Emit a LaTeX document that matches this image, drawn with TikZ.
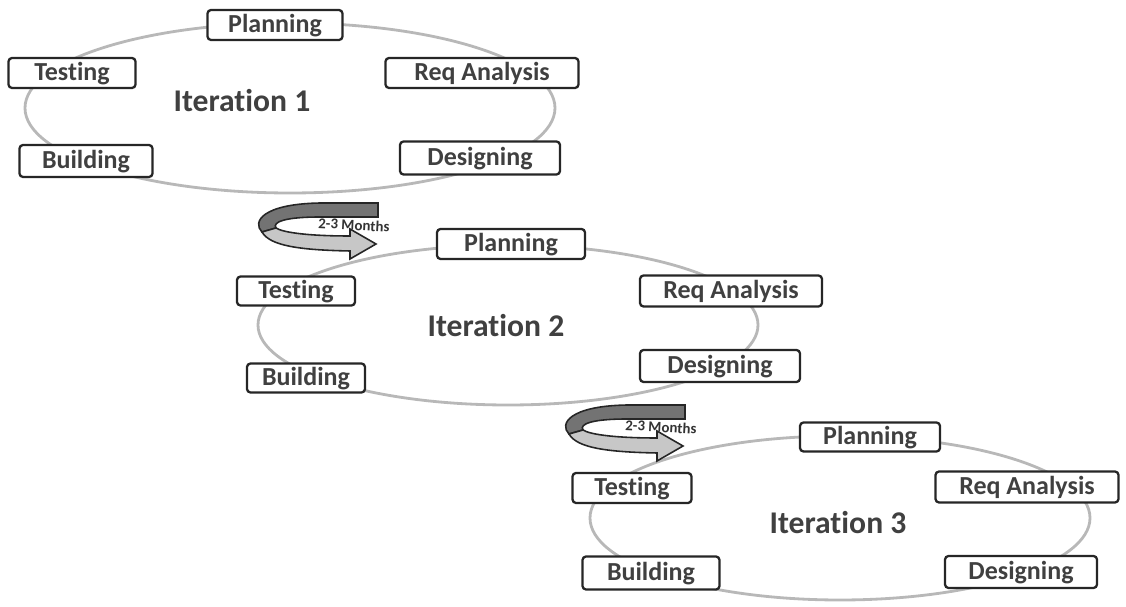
\documentclass[tikz,border=0pt]{standalone}
\usepackage{fontspec}
\setmainfont{Carlito}[Ligatures={NoCommon}]
\begin{document}
\begin{tikzpicture}[x=0.02cm,y=-0.02cm,
  stage/.style={draw=black!85,line width=1.3pt,rounded corners=2pt,fill=white,
    inner sep=0pt,text height=2.1ex,text depth=0.2ex,
    font=\fontsize{14.8}{16}\selectfont\bfseries,text=black!75},
  iterlabel/.style={font=\fontsize{18}{20}\selectfont\bfseries,text=black!75},
  cyclepath/.style={draw=black!28,line width=1.6pt},
  monthlabel/.style={font=\fontsize{8.5}{9}\selectfont\bfseries,text=black!80}]
\useasboundingbox (0,0) rectangle (1126,607);

% ---------- cycles ----------
\draw[cyclepath] (290,108) ellipse [x radius=265, y radius=85];
\draw[cyclepath] (508,325) ellipse [x radius=250, y radius=80];
\draw[cyclepath] (840,518) ellipse [x radius=250, y radius=82];

% ---------- Iteration 1 ----------
\node[stage,minimum width=135*0.02cm,minimum height=0.6cm] (p1) at (275,25) {Planning};
\node[stage,minimum width=127*0.02cm,minimum height=0.6cm] (t1) at (72,73) {Testing};
\node[stage,minimum width=193*0.02cm,minimum height=0.6cm] (r1) at (482,73) {Req Analysis};
\node[stage,minimum width=133*0.02cm,minimum height=0.64cm] (b1) at (86,161) {Building};
\node[stage,minimum width=160*0.02cm,minimum height=0.66cm] (d1) at (480,158) {Designing};
\node[iterlabel] (i1) at (242,101) {Iteration 1};

% ---------- Iteration 2 ----------
\node[stage,minimum width=148*0.02cm,minimum height=0.6cm] (p2) at (511,244) {Planning};
\node[stage,minimum width=118*0.02cm,minimum height=0.58cm] (t2) at (296,291) {Testing};
\node[stage,minimum width=182*0.02cm,minimum height=0.62cm] (r2) at (731,291) {Req Analysis};
\node[stage,minimum width=118*0.02cm,minimum height=0.58cm] (b2) at (306,378) {Building};
\node[stage,minimum width=160*0.02cm,minimum height=0.64cm] (d2) at (720,366) {Designing};
\node[iterlabel] (i2) at (496,326) {Iteration 2};

% ---------- Iteration 3 ----------
\node[stage,minimum width=140*0.02cm,minimum height=0.58cm] (p3) at (870,437) {Planning};
\node[stage,minimum width=119*0.02cm,minimum height=0.6cm] (t3) at (632,488) {Testing};
\node[stage,minimum width=183*0.02cm,minimum height=0.62cm] (r3) at (1027,487) {Req Analysis};
\node[stage,minimum width=137*0.02cm,minimum height=0.66cm] (b3) at (651,573) {Building};
\node[stage,minimum width=152*0.02cm,minimum height=0.64cm] (d3) at (1021,572) {Designing};
\node[iterlabel] (i3) at (838,523) {Iteration 3};

% ---------- curved transition arrows ----------
\foreach \sx/\sy/\nm in {0/0/a, 307/202/b}{
\begin{scope}[shift={(\sx,\sy)}]
  % back (upper) band
  \filldraw[fill=black!55,draw=black!85,line width=0.9pt]
    (378,203) -- (320,203) .. controls (262,204) and (252,222) .. (262,232)
    -- (276,228) .. controls (272,222) and (285,217) .. (320,217) -- (378,217) -- cycle;
  % front (lower) band with head
  \filldraw[fill=black!22,draw=black!85,line width=0.9pt]
    (262,232) .. controls (270,246) and (300,250) .. (350,251)
    -- (350,259) -- (376,244) -- (350,229) -- (350,236)
    .. controls (305,236) and (282,232) .. (276,228) -- cycle;
  \node[monthlabel,rotate=-3] (m\nm) at (354,225) {2-3 Months};
\end{scope}}
\end{tikzpicture}
\end{document}
